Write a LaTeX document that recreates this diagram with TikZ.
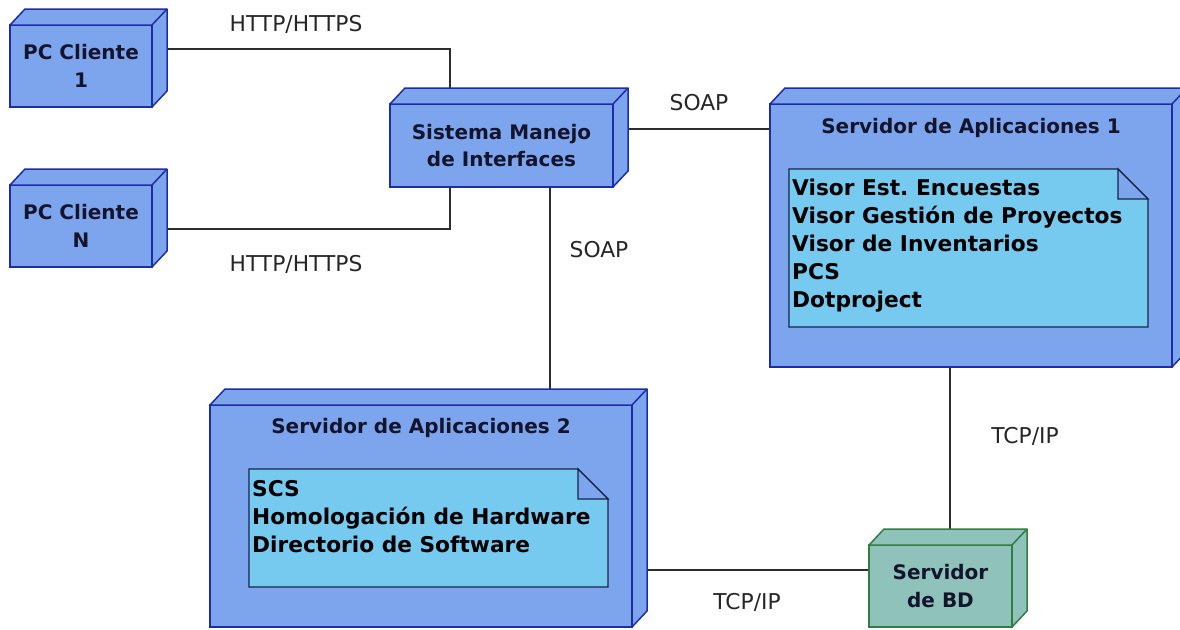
\documentclass[tikz,border=0pt]{standalone}
\usepackage{fontspec}
\setmainfont{DejaVu Sans}
\usetikzlibrary{calc}
\pgfdeclarelayer{background}
\pgfsetlayers{background,main}
\frenchspacing

\definecolor{nodeblue}{RGB}{125,165,238}
\definecolor{nodeedge}{RGB}{30,45,165}
\definecolor{notecyan}{RGB}{118,202,240}
\definecolor{noteedge}{RGB}{25,35,70}
\definecolor{dbfill}{RGB}{142,194,186}
\definecolor{dbedge}{RGB}{50,125,65}
\definecolor{inktext}{RGB}{20,20,45}
\definecolor{wire}{RGB}{45,45,45}

\newcommand\titlefont{\bfseries\fontsize{20}{27.5}\selectfont}
\newcommand\notefont{\bfseries\fontsize{21.7}{28}\selectfont}
\newcommand\labelfont{\fontsize{21.8}{24}\selectfont}

\tikzset{
  device/.style={draw=nodeedge, fill=nodeblue, line width=1.5pt, outer sep=0pt,
    inner sep=0pt, align=center, font=\titlefont, text=inktext},
  dbbox/.style={device, draw=dbedge, fill=dbfill},
  title/.style={font=\titlefont, text=inktext, inner sep=0pt},
  notebox/.style={draw=none, inner sep=0pt, outer sep=0pt},
  notepaper/.style={fill=notecyan, draw=noteedge, line width=1.3pt, line join=miter},
  notefold/.style={fill=nodeblue, draw=noteedge, line width=1.3pt},
  notetext/.style={font=\notefont, text=black, align=left, inner sep=0pt, anchor=north west},
  wirelabel/.style={font=\labelfont, text=black!85, inner sep=0pt},
  conn/.style={draw=wire, line width=1.5pt},
}

% top and right faces of a 3-D node box
\newcommand\depthfaces[3]{%
  \filldraw[fill=#2, draw=#3, line width=1.5pt, line join=round]
    (#1.north west) -- ([shift={(15pt,16pt)}]#1.north west)
    -- ([shift={(15pt,16pt)}]#1.north east)
    -- ([shift={(15pt,16pt)}]#1.south east)
    -- (#1.south east) -- (#1.north east) -- cycle;
  \draw[draw=#3, line width=1.5pt] (#1.north east) -- ([shift={(15pt,16pt)}]#1.north east);
}

% note with a folded corner
\newcommand\dogear[1]{%
  \filldraw[notepaper] (#1.north west) -- ([xshift=-30pt]#1.north east)
    -- ([yshift=-30pt]#1.north east) -- (#1.south east) -- (#1.south west) -- cycle;
  \filldraw[notefold] ([xshift=-30pt]#1.north east)
    -- ([xshift=-30pt,yshift=-30pt]#1.north east) -- ([yshift=-30pt]#1.north east) -- cycle;
}

\begin{document}
\begin{tikzpicture}[x=1pt, y=-1pt]
  \useasboundingbox (0,0) rectangle (1180,629);

  % nodes
  \node[device, minimum width=142pt, minimum height=82pt] (pc1) at (81,66) {PC Cliente\\1};
  \depthfaces{pc1}{nodeblue}{nodeedge}

  \node[device, minimum width=142pt, minimum height=82pt] (pcn) at (81,226) {PC Cliente\\N};
  \depthfaces{pcn}{nodeblue}{nodeedge}

  \node[device, minimum width=223pt, minimum height=83pt] (sis) at (501.5,145.5) {Sistema Manejo\\de Interfaces};
  \depthfaces{sis}{nodeblue}{nodeedge}

  \node[device, minimum width=402pt, minimum height=263pt] (srv1) at (971,235.5) {};
  \depthfaces{srv1}{nodeblue}{nodeedge}
  \node[title] (srv1title) at (971,128) {Servidor de Aplicaciones 1};
  \node[notebox, minimum width=359pt, minimum height=158pt] (note1) at (968.5,248) {};
  \dogear{note1}
  \node[notetext] (note1text) at (792,179)
    {Visor Est. Encuestas\\Visor Gestión de Proyectos\\Visor de Inventarios\\PCS\\Dotproject};

  \node[device, minimum width=422pt, minimum height=222pt] (srv2) at (421,516) {};
  \depthfaces{srv2}{nodeblue}{nodeedge}
  \node[title] (srv2title) at (421,428) {Servidor de Aplicaciones 2};
  \node[notebox, minimum width=359pt, minimum height=118pt] (note2) at (428.5,528) {};
  \dogear{note2}
  \node[notetext] (note2text) at (252,480)
    {SCS\\Homologación de Hardware\\Directorio de Software};

  \node[dbbox, minimum width=143pt, minimum height=82pt] (bd) at (940.5,586) {Servidor\\de BD};
  \depthfaces{bd}{dbfill}{dbedge}

  % white page and connectors, kept behind the boxes
  \begin{pgfonlayer}{background}
    \fill[white] (0,0) rectangle (1180,629);
    \draw[conn] ([xshift=15pt,yshift=17pt]pc1.east) -| ([xshift=-51.5pt]sis.north);
    \draw[conn] ([xshift=15pt,yshift=-3pt]pcn.east) -| ([xshift=-51.5pt]sis.south);
    \coordinate (sisout) at ([yshift=16.5pt]sis.east);
    \draw[conn] (sisout) -- (sisout -| srv1.west);
    \coordinate (sisdown) at ([xshift=48.5pt]sis.south);
    \draw[conn] (sisdown) -- (sisdown |- srv2.north);
    \coordinate (srvdown) at ([xshift=-21pt]srv1.south);
    \draw[conn] (srvdown) -- (srvdown |- bd.north);
    \coordinate (srvright) at ([yshift=-54pt]srv2.east);
    \draw[conn] (srvright) -- (srvright -| bd.west);
  \end{pgfonlayer}

  % connector labels
  \node[wirelabel] (lhttp1) at (296,24) {HTTP/HTTPS};
  \node[wirelabel] (lhttp2) at (296,264) {HTTP/HTTPS};
  \node[wirelabel] (lsoap1) at (699,103) {SOAP};
  \node[wirelabel] (lsoap2) at (599,250) {SOAP};
  \node[wirelabel] (ltcp1) at (1025,436) {TCP/IP};
  \node[wirelabel] (ltcp2) at (747,602) {TCP/IP};
\end{tikzpicture}
\end{document}
